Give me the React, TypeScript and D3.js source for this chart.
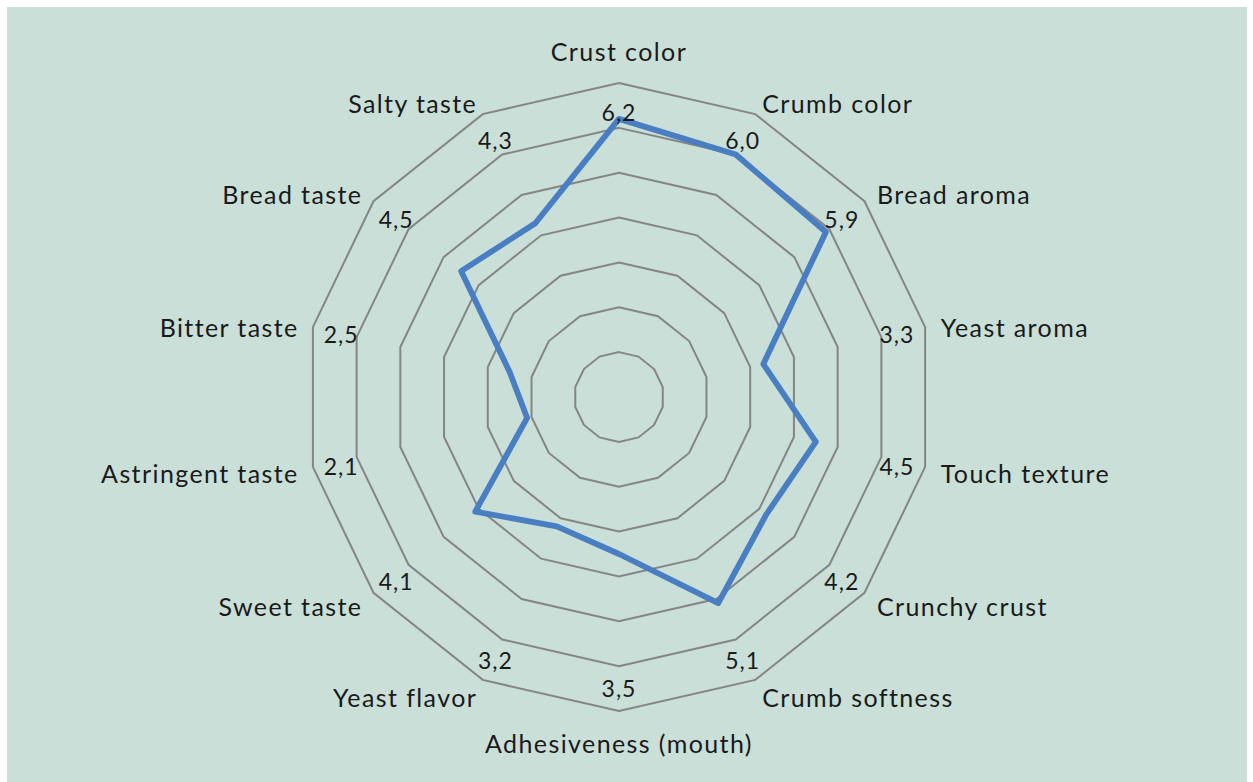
import { useMemo } from 'react'
import * as d3 from 'd3'

// Sensory attributes, clockwise from the top
const attributes = [
  'Crust color',
  'Crumb color',
  'Bread aroma',
  'Yeast aroma',
  'Touch texture',
  'Crunchy crust',
  'Crumb softness',
  'Adhesiveness (mouth)',
  'Yeast flavor',
  'Sweet taste',
  'Astringent taste',
  'Bitter taste',
  'Bread taste',
  'Salty taste'
]

const scores = [6.2, 6.0, 5.9, 3.3, 4.5, 4.2, 5.1, 3.5, 3.2, 4.1, 2.1, 2.5, 4.5, 4.3]

const gridLevels = [1, 2, 3, 4, 5, 6, 7]

const WIDTH = 1253
const HEIGHT = 782
const CX = 619
const CY = 397
const FONT = 'Lato, "Open Sans", sans-serif'

export default function App() {
  const rScale = useMemo(() => d3.scaleLinear().domain([0, 7]).range([0, 314]), [])
  const angle = d3.scaleLinear().domain([0, attributes.length]).range([0, 2 * Math.PI])

  const radial = d3.lineRadial<number>()
    .angle((_, i) => angle(i))
    .radius(d => rScale(d))
    .curve(d3.curveLinearClosed)

  const fmt = (v: number) => v.toFixed(1).replace('.', ',')

  return (
    <svg
      width={WIDTH}
      height={HEIGHT}
      style={{ position: 'absolute', left: 0, top: 0 }}
    >
      <rect x={7} y={7} width={1240} height={775} fill="#c9dfd8" />
      <g transform={`translate(${CX},${CY})`}>
        {/* rings */}
        {gridLevels.map(l => (
          <path
            key={l}
            d={radial(attributes.map(() => l)) || ''}
            fill="none"
            stroke="#858585"
            strokeWidth={2}
          />
        ))}

        {/* series */}
        <path
          d={radial(scores) || ''}
          fill="none"
          stroke="#4a7ec2"
          strokeWidth={5.8}
          strokeLinejoin="round"
        />

        {/* value labels */}
        {scores.map((v, i) => {
          const a = angle(i)
          const r = 285
          const c = Math.cos(a)
          return (
            <text
              key={'v' + i}
              x={r * Math.sin(a)}
              y={-r * c + (c < -0.1 ? 6 : 0)}
              textAnchor="middle"
              dominantBaseline="central"
              fontFamily={FONT}
              fontSize={23}
              letterSpacing={1}
              fill="#1a1a1a"
            >
              {fmt(v)}
            </text>
          )
        })}

        {/* category labels */}
        {attributes.map((name, i) => {
          const a = angle(i)
          const s = Math.sin(a)
          const c = Math.cos(a)
          const r = 330
          const x = r * s
          let y = -r * c
          const anchor = s > 0.1 ? 'start' : s < -0.1 ? 'end' : 'middle'
          if (Math.abs(c) > 0.95) y -= c * 16
          else y += 3
          return (
            <text
              key={'c' + i}
              x={x + (anchor === 'end' ? 1.4 : 0)}
              y={y}
              textAnchor={anchor}
              dominantBaseline="central"
              fontFamily={FONT}
              fontSize={25}
              letterSpacing={1.4}
              fill="#1a1a1a"
            >
              {name}
            </text>
          )
        })}
      </g>
    </svg>
  )
}
